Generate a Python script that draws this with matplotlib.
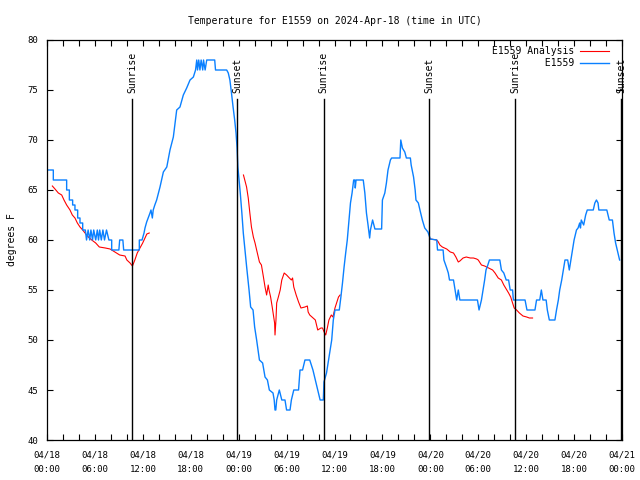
import matplotlib
matplotlib.use("Agg")
import matplotlib.pyplot as plt
import matplotlib.dates as mdates
import numpy as np
import pandas as pd

T0 = pd.Timestamp("2024-04-18 00:00")
NAN = np.nan

# E1559 observations: hours since 04/18 00:00 UTC, degrees F
obs_hours = [0.0, 0.79, 0.79, 2.46, 2.46, 2.8, 2.8, 3.21, 3.21, 3.5, 3.5, 3.84, 3.84,
             4.13, 4.13, 4.47, 4.47, 4.8, 4.95, 5.15, 5.35, 5.5, 5.7, 5.85, 6.1,
             6.3, 6.45, 6.6, 6.8, 7.0, 7.2, 7.45, 7.75, 8.1, 8.1, 9.0, 9.1,
             9.5, 9.6, 11.56, 11.56, 11.9, 12.15, 12.27, 12.48, 12.9, 13.02, 13.19, 13.3,
             13.5, 13.73, 14.15, 14.57, 15.0, 15.4, 15.82, 16.24, 16.65, 17.07, 17.49,
             17.91, 18.33, 18.6, 18.75, 18.85, 19.0, 19.15, 19.3, 19.5, 19.6, 19.8, 20.0,
             21.0, 21.1, 22.5, 22.7, 22.9, 23.1, 23.3, 23.5, 23.67, 23.8, 23.9, 24.2, 24.4,
             24.58, 25.0, 25.3, 25.5, 25.8, 26.0, 26.25, 26.6, 27.0, 27.3, 27.6, 27.84,
             28.3, 28.45, 28.55, 28.65, 28.76, 29.09, 29.4, 29.8, 30.0, 30.43, 30.6, 30.9,
             31.5, 31.68, 32.0, 32.3, 32.9, 33.3, 33.6, 33.9, 34.2, 34.6, 34.68, 35.0,
             35.2, 35.4, 35.65, 35.85, 36.06, 36.6, 36.8, 37.0, 37.2, 37.4, 37.6, 37.8,
             38.0, 38.2, 38.4, 38.55, 38.6, 38.7, 39.6, 39.8, 40.0, 40.2, 40.4, 40.5,
             40.77, 41.06, 41.9, 42.0, 42.3, 42.5, 42.7, 43.0, 43.15, 44.2, 44.3, 44.5,
             44.8, 45.0, 45.5, 45.6, 45.9, 46.1, 46.2, 46.5, 46.7, 47.0, 47.3, 47.7, 48.0,
             48.8, 48.9, 49.6, 49.7, 50.05, 50.25, 50.4, 50.9, 51.1, 51.3, 51.5, 51.7,
             53.9, 54.1, 54.4, 54.6, 54.8, 54.97, 55.2, 55.4, 56.7, 56.9, 57.2, 57.5,
             57.8, 58.0, 58.3, 58.4, 59.86, 60.1, 61.1, 61.3, 61.7, 61.9, 62.1, 62.5,
             62.65, 62.9, 63.6, 63.8, 64.03, 64.2, 64.45, 64.65, 64.86, 65.2, 65.4, 65.6,
             65.8, 66.0, 66.3, 66.5, 66.7, 66.8, 66.9, 67.2, 67.45, 67.65, 68.4, 68.6,
             68.8, 69.0, 69.1, 70.1, 70.4, 70.8, 71.0, 71.2, 71.5, 71.7]
obs_temp = [67, 67, 66, 66, 65, 65, 64, 64, 63.5, 63.5, 63, 63, 62.2,
            62.2, 61.7, 61.7, 61, 61, 60, 61, 60, 61, 60, 61, 60,
            61, 60, 61, 60, 61, 60, 61, 60, 60, 59, 59, 60,
            60, 59, 59, 60, 60, 60.7, 61.2, 61.8, 62.7, 63, 62.2, 63,
            63.5, 64, 65.3, 66.8, 67.3, 69, 70.3, 73, 73.3, 74.5, 75.2,
            76, 76.3, 77, 78, 77, 78, 77, 78, 77, 78, 77, 78,
            78, 77, 77, 76.7, 76, 74.7, 73.3, 72, 70.7, 69.2, 67.3, 64.7, 62.7,
            60.7, 57.3, 55, 53.3, 53, 51.3, 50, 48, 47.7, 46.3, 46, 45,
            44.7, 44, 43, 43, 44, 45, 44, 44, 43, 43, 44, 45,
            45, 47, 47, 48, 48, 47, 46, 45, 44, 44, 45.8, 46.7,
            47.7, 48.7, 50, 52, 53, 53, 54.3, 55.7, 57.3, 58.7, 60, 61.8,
            63.7, 64.7, 66, 66, 65.2, 66, 66, 64.7, 62.7, 61.5, 60.2, 61,
            62, 61.1, 61.1, 64, 64.7, 65.7, 67, 68, 68.2, 68.2, 70, 69.2,
            68.8, 68.2, 68.2, 67.5, 66.3, 65, 64, 63.7, 63, 62, 61.2, 60.8, 60.1,
            60, 59, 59, 58, 57.2, 56.7, 56, 56, 55, 54, 55, 54,
            54, 53, 54, 55, 56, 57, 57.5, 58, 58, 57, 56.7, 56,
            56, 55, 55, 54, 54, 53, 53, 54, 54, 55, 54, 54,
            53, 52, 52, 53, 54, 55, 56, 57, 58, 58, 57, 58,
            59, 60, 61, 61.2, 61.7, 61.2, 62, 61.5, 62.5, 63, 63, 63.7,
            64, 63.7, 63, 63, 62, 62, 60.7, 59.7, 58.7, 58]

# E1559 Analysis (three analysis windows, NaN = gap)
ana_hours = [0.67, 1.0, 1.42, 1.84, 2.13, 2.46, 2.88, 3.17, 3.5, 3.8, 4.13, 4.47, 4.76,
             5.18, 5.6, 6.1, 6.55, 7.3, 7.9, 8.1, 8.7, 9.1, 9.77, 10.0, 10.4, 10.7, 11.0,
             11.3, 11.64, 11.98, 12.27, 12.5, 12.8, NAN,
             24.6, 24.99, 25.2, 25.4, 25.6, 25.84, 26.05, 26.25, 26.6, 26.85, 27.1, 27.3,
             27.5, 27.7, 27.8, 28.0, 28.2, 28.35, 28.5, 28.55, 28.67, 28.76, 28.97, 29.2,
             29.4, 29.7, 30.0, 30.35, 30.6, 30.75, 30.9, 31.2, 31.5, 31.8, 32.3, 32.6,
             32.7, 32.9, 33.6, 33.9, 34.3, 34.5, 34.7, 34.9, 35.1, 35.3, 35.6, 35.8,
             36.06, 36.3, 36.5, 36.7, NAN,
             48.0, 48.8, 49.0, 49.2, 49.5, 50.05, 50.5, 50.9, 51.2, 51.5, 51.7, 52.1,
             52.5, 53.0, 53.4, 53.8, 54.0, 54.4, 54.8, 55.3, 55.8, 56.1, 56.5, 56.9,
             57.2, 57.5, 57.8, 58.06, 58.3, 58.5, 58.8, 59.15, 59.6, 60.06, 60.4, 60.8]
ana_temp = [65.4, 65.1, 64.7, 64.5, 64, 63.5, 63, 62.5, 62.2, 61.7, 61.3, 61, 60.7,
            60.3, 60, 59.7, 59.3, 59.2, 59.1, 59, 58.7, 58.5, 58.4, 58, 57.7, 57.4, 58,
            58.7, 59.2, 59.7, 60.2, 60.6, 60.7, NAN,
            66.5, 65.3, 64.2, 62.7, 61.3, 60.3, 59.7, 59, 57.8, 57.5, 56.3, 55.3,
            54.5, 55.5, 55, 54.3, 53.3, 52.5, 51.7, 50.5, 52, 53.7, 54.3, 55,
            56, 56.7, 56.5, 56.2, 56, 56.2, 55.3, 54.5, 53.8, 53.2, 53.3, 53.4,
            52.8, 52.5, 52, 51, 51.2, 51.2, 50.8, 50.5, 51.2, 52, 52.5, 52.3,
            53.2, 53.8, 54.3, 54.5, NAN,
            60.1, 60, 59.8, 59.5, 59.3, 59.1, 58.8, 58.7, 58.3, 57.8, 57.9, 58.2,
            58.3, 58.2, 58.2, 58.1, 58, 57.5, 57.4, 57.2, 57, 56.7, 56.2, 56,
            55.5, 55.1, 54.7, 54.3, 53.7, 53.2, 53, 52.7, 52.4, 52.3, 52.2, 52.2]

sun_hours = [10.68, 23.83, 34.63, 47.87, 58.62, 71.87]
sun_labels = ["Sunrise", "Sunset", "Sunrise", "Sunset", "Sunrise", "Sunset"]

FONT = "DejaVu Sans Mono"
plt.rcParams["font.family"] = FONT


def to_time(h):
    return T0 + pd.to_timedelta(np.asarray(h, dtype=float), unit="h")


fig = plt.figure(figsize=(6.4, 4.8), dpi=100)
ax = fig.add_axes([47 / 640, 40 / 480, 575 / 640, 400 / 480])

ax.plot(to_time(ana_hours), ana_temp, color="#ff0000", lw=0.8, label="E1559 Analysis")
ax.plot(to_time(obs_hours), obs_temp, color="#0a80ff", lw=1.0, label="         E1559")

for h, lab in zip(sun_hours, sun_labels):
    t = to_time([h])[0]
    ax.plot([t, t], [40, 74.1], color="black", lw=1.0)
    ax.text(t, 74.7, lab, rotation=90, ha="center", va="bottom", fontsize=7)

ax.set_xlim(to_time([0])[0], to_time([72])[0])
ax.set_ylim(40, 80)
ax.set_yticks(np.arange(40, 81, 5))
ax.xaxis.set_major_locator(mdates.HourLocator(byhour=[0, 6, 12, 18]))
ax.xaxis.set_minor_locator(mdates.HourLocator(byhour=range(0, 24, 2)))
ax.xaxis.set_major_formatter(mdates.DateFormatter("%m/%d\n%H:%M"))
ax.tick_params(which="both", direction="in", top=True, right=True, length=4,
               width=0.8, labelsize=6.5)
ax.tick_params(axis="x", pad=7.5)
ax.tick_params(axis="y", pad=6.5)
for lab in ax.get_xticklabels():
    lab.set_linespacing(1.85)
for s in ax.spines.values():
    s.set_linewidth(0.9)

ax.set_title("Temperature for E1559 on 2024-Apr-18 (time in UTC)", fontsize=7, pad=11.5)
ax.set_ylabel("degrees F", fontsize=7)
ax.yaxis.set_label_coords(-0.053, 0.5)

leg = ax.legend(loc="upper right", bbox_to_anchor=(0.977, 0.985), frameon=False,
                fontsize=7, handlelength=3.0, handletextpad=0.6, borderpad=0,
                borderaxespad=0, labelspacing=0.2, markerfirst=False)

fig.savefig("out.png", dpi=100)
